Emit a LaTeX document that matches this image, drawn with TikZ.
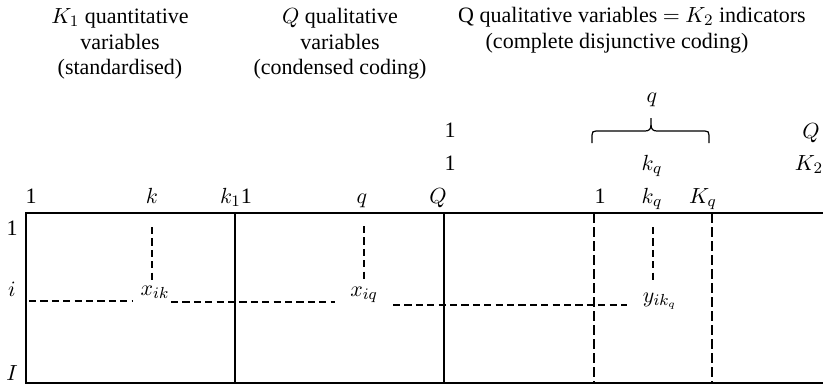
\documentclass[tikz,border=0pt]{standalone}
\usepackage{fontspec}
\setmainfont{Liberation Serif}
\begin{document}
\begin{tikzpicture}[x=0.5pt,y=-0.5pt,
  lbl/.style={inner sep=0pt,anchor=base,font=\fontsize{11}{12.75}\selectfont},
  head/.style={inner sep=0pt,anchor=north,align=center,font=\fontsize{11}{12.75}\selectfont},
  frame/.style={line width=1pt},
  thindash/.style={line width=0.55pt,dash pattern=on 3.6pt off 2.1pt},
  thickdash/.style={line width=0.9pt,dash pattern=on 5pt off 2pt},
  bracepath/.style={line width=0.6pt}]
\useasboundingbox (0,0) rectangle (823,387);
% headers
\node[head] (h1) at (120,8.3) {$K_1$ quantitative\\variables\\(standardised)};
\node[head] (h2) at (340,8.3) {$Q$ qualitative\\variables\\(condensed coding)};
\node[lbl] (h3a) at (632,22) {Q qualitative variables $=$ $K_2$ indicators};
\node[lbl] (h3b) at (617,48) {(complete disjunctive coding)};
% upper labels
\node[lbl] (one1) at (450,137) {1};
\node[lbl] (one2) at (450,170) {1};
\node[lbl] (qbr) at (652,102) {$q$};
\node[lbl] (Qr) at (811,138) {$Q$};
\node[lbl] (kq2) at (652,170) {$k_q$};
\node[lbl] (K2) at (809,170) {$K_2$};
% brace
\draw[bracepath] (592,143) -- (592,135) .. controls (592,132) and (593,131) .. (596,131)
  -- (645,131) .. controls (649,131) and (651,129) .. (651,125) -- (651,118);
\draw[bracepath] (709,143) -- (709,135) .. controls (709,132) and (708,131) .. (705,131)
  -- (657,131) .. controls (653,131) and (651,129) .. (651,125);
% column labels
\node[lbl] (c1) at (31,203) {1};
\node[lbl] (ck) at (152,203) {$k$};
\node[lbl] (ck1) at (236,203) {$k_1$1};
\node[lbl] (cq) at (362,203) {$q$};
\node[lbl] (cQ) at (438,203) {$Q$};
\node[lbl] (d1) at (600,203) {1};
\node[lbl] (dkq) at (652,203) {$k_q$};
\node[lbl] (dKq) at (703,203) {$K_q$};
% row labels
\node[lbl] (r1) at (12,235) {1};
\node[lbl] (ri) at (12,296) {$i$};
\node[lbl] (rI) at (12,380) {$I$};
% frame
\draw[frame] (823,213) -- (26,213) -- (26,383) -- (823,383);
\draw[frame] (235,213) -- (235,383);
\draw[frame] (444,213) -- (444,383);
\draw[thickdash] (594,213) -- (594,383);
\draw[thickdash] (712,213) -- (712,383);
% cell labels
\node[lbl] (xik) at (155,295) {$x_{ik}$};
\node[lbl] (xiq) at (364,296) {$x_{iq}$};
\node[lbl] (yikq) at (660,302) {$y_{ik_q}$};
% guide coordinates
\coordinate (vk1) at (152,227); \coordinate (vk2) at (152,280);
\coordinate (vq1) at (364,226); \coordinate (vq2) at (364,279);
\coordinate (vy1) at (653,227); \coordinate (vy2) at (653,280);
\coordinate (h1a) at (29,301); \coordinate (h1b) at (132,301);
\coordinate (h2a) at (171,302); \coordinate (h2b) at (335,302);
\coordinate (h3x) at (393,305); \coordinate (h3y) at (627,305);
\draw[thindash] (vk1) -- (vk2);
\draw[thindash] (vq1) -- (vq2);
\draw[thindash] (vy1) -- (vy2);
\draw[thindash] (h1a) -- (h1b);
\draw[thindash] (h2a) -- (h2b);
\draw[thindash] (h3x) -- (h3y);
\end{tikzpicture}
\end{document}
